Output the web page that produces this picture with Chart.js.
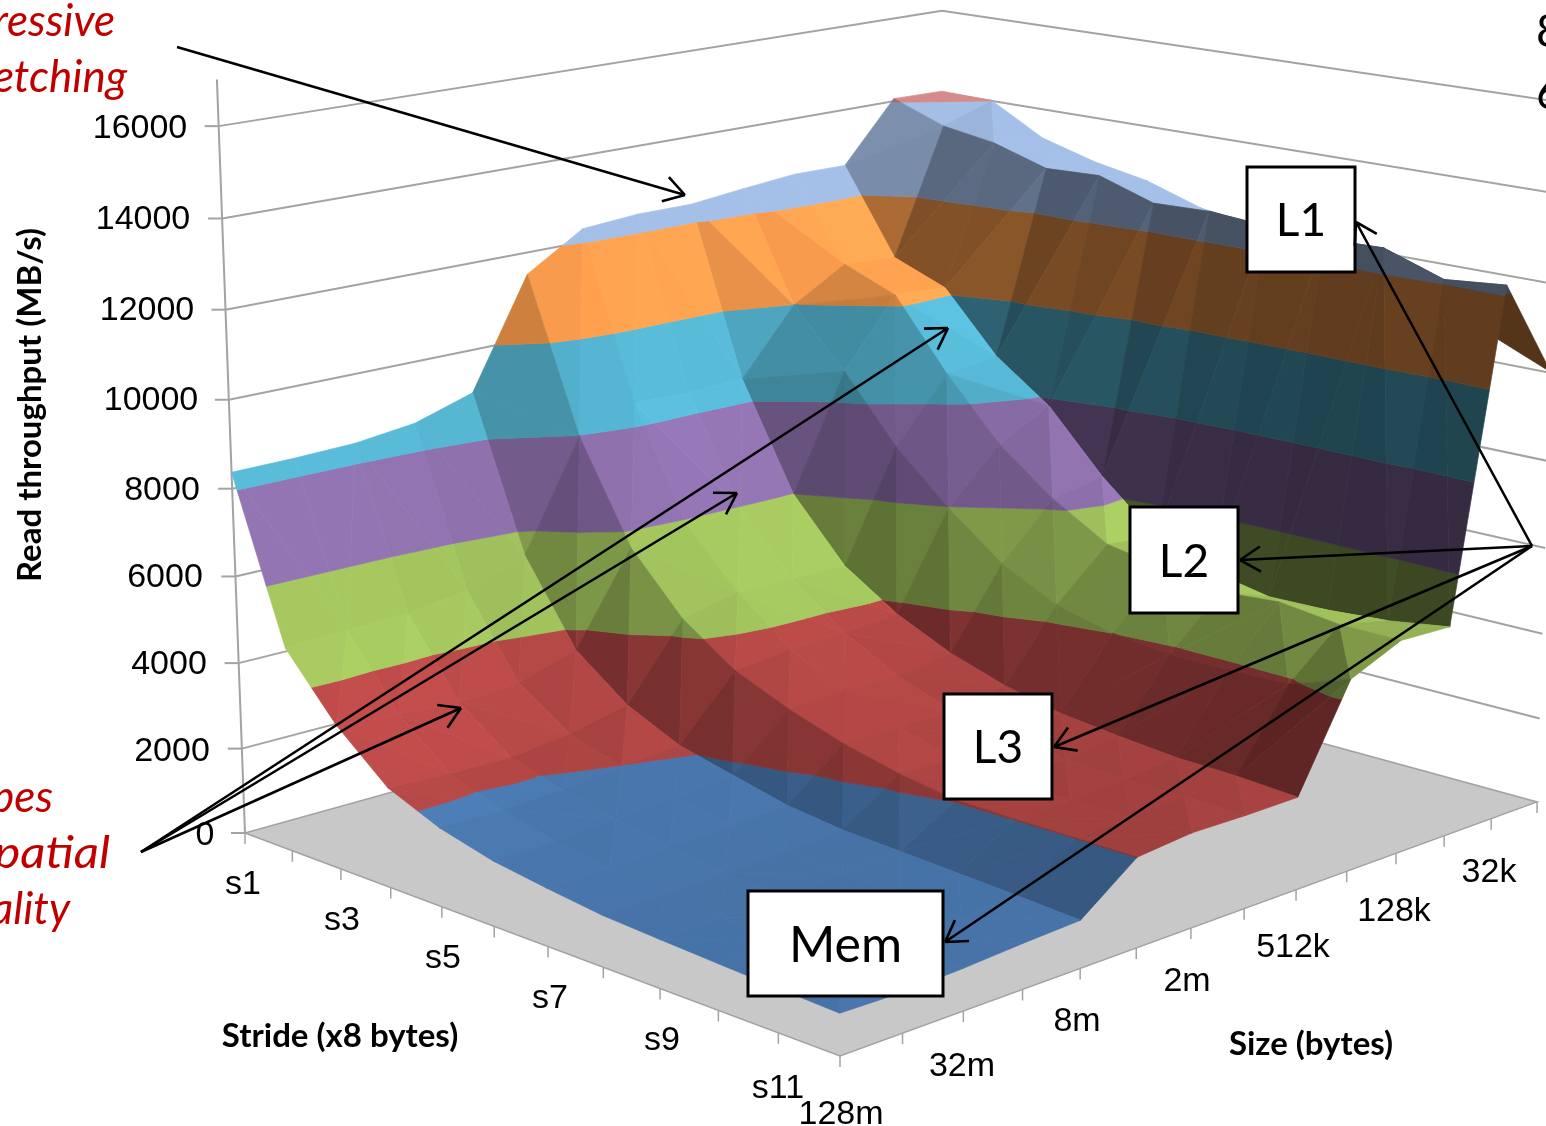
<!DOCTYPE html>
<html>
<head>
<meta charset="utf-8">
<title>Memory mountain</title>
<script src="https://cdn.jsdelivr.net/npm/chart.js@4"></script>
<style>
  html, body { margin: 0; padding: 0; background: #fff; overflow: hidden; }
  canvas { display: block; }
</style>
</head>
<body>
<canvas id="mountain" width="1546" height="1126"></canvas>
<script>
const strideLabels = ["s1","s2","s3","s4","s5","s6","s7","s8","s9","s10","s11","s12"];
const sizeLabels = ["128m","64m","32m","16m","8m","4m","2m","1024k","512k","256k","128k","64k","32k","16k"];
const throughputTicks = [0,2000,4000,6000,8000,10000,12000,14000,16000];

// read throughput (MB/s) per size, one value per stride s1..s12
const size128m  = [8370,4710,3320,2290,1790,1480,1300,1145,1075,1010,950,900];
const size64m   = [8380,4760,3200,2220,1780,1490,1320,1180,1110,1050,1000,870];
const size32m   = [8420,4800,3095,2195,1850,1590,1360,1220,1150,1100,1050,920];
const size16m   = [8580,4990,3180,2355,1990,1690,1430,1280,1220,1170,1100,1000];
const size8m    = [9000,5490,3590,2660,2095,1795,1500,1345,1285,1215,1145,1060];
const size4m    = [11490,7985,5670,4330,3475,2950,2530,2230,2030,2010,2005,2010];
const size2m    = [12300,8470,5900,4620,3630,3000,2530,2180,2040,2030,2050,2130];
const size1024k = [12400,8430,5950,4610,3660,2990,2530,2270,2180,2110,2120,2105];
const size512k  = [12400,8480,6000,4580,3760,3175,2765,2480,2335,2220,2190,2110];
const size256k  = [12540,9990,8670,7145,5980,4970,4330,4000,3865,3870,3910,4390];
const size128k  = [12660,10720,10230,8610,7210,6200,5430,5200,4975,5080,4915,4905];
const size64k   = [12650,10640,10150,8750,7830,6430,5280,4780,4520,4550,4650,4860];
const size32k   = [14060,13600,13400,13010,13060,12640,12680,12580,12520,12560,12100,12230];
const size16k   = [14040,14010,13310,12950,12710,12290,12120,11940,11300,10900,10610,10020];
const surface = [size128m,size64m,size32m,size16m,size8m,size4m,size2m,size1024k,size512k,size256k,size128k,size64k,size32k,size16k];

// one colour per 2000 MB/s band
const bandColors = [[70,114,166],[165,66,64],[146,176,84],[130,103,158],[78,166,192],[234,146,72],[165,192,232],[214,138,138]];

// camera, fitted on the floor corners of the picture
const cam = { x0: 245, y0: 833, A: 481.6, B: 845.8, C: 80.4, D: -93, p: -0.135, q: 0.158, vpX: 942, vpD: 18700 };

function project(a, b, z) {
  const w = 1 + cam.p * a + cam.q * b;
  const fx = (cam.x0 + cam.A * a + cam.B * b) / w;
  const fy = (cam.y0 + cam.C * a + cam.D * b) / w;
  const k = 0.0419 / (1 + 0.125 * b - 0.115 * a);
  const h = k * z * (1 + 0.0034 * z / 1000);
  return { x: fx + (fx - cam.vpX) * h / cam.vpD, y: fy - h };
}
const gridPoint = (i, j) => ({ i, j, z: surface[j][i] });
const toScreen = (v) => project(v.i / (strideLabels.length - 1), v.j / (sizeLabels.length - 1), v.z);

function clipBand(poly, lo, hi) {
  const cut = (pts, keep, limit) => {
    const out = [];
    pts.forEach((p, n) => {
      const q = pts[(n + 1) % pts.length];
      if (keep(p)) out.push(p);
      if (keep(p) !== keep(q)) {
        const t = (limit - p.z) / (q.z - p.z);
        out.push({ i: p.i + (q.i - p.i) * t, j: p.j + (q.j - p.j) * t, z: limit });
      }
    });
    return out;
  };
  let res = cut(poly, (p) => p.z >= lo, lo);
  if (res.length) res = cut(res, (p) => p.z <= hi, hi);
  return res;
}

// light comes from the back right, flat faces keep the band colour
function shadeOf(t) {
  const s = 1400;
  const u = [t[1].i - t[0].i, t[1].j - t[0].j, (t[1].z - t[0].z) / s];
  const v = [t[2].i - t[0].i, t[2].j - t[0].j, (t[2].z - t[0].z) / s];
  let n = [u[1]*v[2]-u[2]*v[1], u[2]*v[0]-u[0]*v[2], u[0]*v[1]-u[1]*v[0]];
  const len = Math.hypot(n[0], n[1], n[2]) * (n[2] < 0 ? -1 : 1);
  n = n.map((c) => c / len);
  // underside seen from the front: stays dark
  const s0 = toScreen(t[0]), s1 = toScreen(t[1]), s2 = toScreen(t[2]);
  const area = (s1.x - s0.x) * (s2.y - s0.y) - (s1.y - s0.y) * (s2.x - s0.x);
  const uv = u[0] * v[1] - u[1] * v[0];
  if (area * uv > 0) return 0.36;
  return 1 + 0.58 * (0.62 * n[0] + 0.58 * n[1] + 0.53 * n[2] - 0.53);
}
function bandColor(band, f) {
  const c = bandColors[band].map((v) => Math.min(255, Math.round(v * f)));
  return `rgb(${c[0]},${c[1]},${c[2]})`;
}

const datasets = [];
function addPath(points, stroke, width, fill) {
  datasets.push({
    data: points,
    showLine: true,
    pointRadius: 0,
    borderColor: stroke,
    borderWidth: width,
    backgroundColor: fill || "transparent",
    fill: fill ? "shape" : false,
    tension: 0,
  });
}

const grey = "#a3a3a3";
const lastI = strideLabels.length - 1, lastJ = sizeLabels.length - 1;

// floor
const floorPts = [project(0,0,0), project(1,0,0), project(1,1,0), project(0,1,0), project(0,0,0)];
addPath(floorPts, grey, 1.5, "#c8c8c8");

// walls
throughputTicks.forEach((z) => {
  if (z > 0) {
    addPath([project(0,0,z), project(0,1,z), project(1,1,z)], grey, 2);
  }
  const p = project(0,0,z);
  addPath([{ x: p.x - 14, y: p.y }, p], grey, 2);
});
addPath([project(0,0,0), project(0,0,17000)], grey, 2);

// ticks under the floor edges
for (let i = 0; i <= lastI; i++) {
  const p = project(i / lastI, 0, 0);
  addPath([p, { x: p.x, y: p.y + 11 }], grey, 1.5);
}
for (let j = 1; j <= lastJ; j++) {
  const p = project(1, j / lastJ, 0);
  addPath([p, { x: p.x, y: p.y + 11 }], grey, 1.5);
}

// surface, back to front, cut in 2000 MB/s bands
function addTriangle(tri) {
  let f = shadeOf(tri);
  bandColors.forEach((_, band) => {
    const piece = clipBand(tri, band * 2000, (band + 1) * 2000);
    if (piece.length < 3) return;
    const pts = piece.map(toScreen);
    pts.push(pts[0]);
    // the top band never gets lighter than its own colour
    const col = bandColor(band, band >= 6 ? Math.min(f, 1) : f);
    addPath(pts, col, 0.7, col);
  });
}
for (let i = 0; i < lastI; i++) {
  for (let j = lastJ - 1; j >= 0; j--) {
    const a = gridPoint(i, j), b = gridPoint(i + 1, j), c = gridPoint(i + 1, j + 1), d = gridPoint(i, j + 1);
    // each cell folds along its higher diagonal
    if (a.z + c.z > b.z + d.z) {
      addTriangle([a, d, c]);
      addTriangle([a, c, b]);
    } else {
      addTriangle([a, d, b]);
      addTriangle([b, d, c]);
    }
  }
}
// first dataset is painted last by Chart.js
datasets.forEach((d, n) => { d.order = datasets.length - n; });

// text and callouts
const tickLabelPos = [[205,836],[172,752],[169,665],[165,578],[162,491],[151,401],[147,311],[143,220],[140,129]];
const stridePos = [[243,885],[342,921],[443,959],[550,999],[662,1041],[778,1089]];
const sizePos = [[841,1115],[962,1067],[1077,1022],[1187,982],[1293,948],[1394,912],[1489,873]];
const boxes = [
  { text: "L1", x: 1247, y: 167, w: 108, h: 105, font: 46 },
  { text: "L2", x: 1130, y: 507, w: 108, h: 106, font: 46 },
  { text: "L3", x: 944, y: 694, w: 108, h: 105, font: 46 },
  { text: "Mem", x: 748, y: 891, w: 195, h: 105, font: 50 },
];
const arrows = [
  [177,47,685,195],
  [141,852,948,328], [141,852,737,493], [141,852,461,708],
  [1532,546,1356,222], [1532,546,1240,560], [1532,546,1054,747], [1532,546,945,942],
];
const redLines = [["Aggressive",115,22,1],["prefetching",127,78,1],["Slopes",53,798,1],["of spatial",110,854,1.12],["locality",70,910,1]];

const annotations = {
  id: "annotations",
  afterDraw(chart) {
    const ctx = chart.ctx;
    const sx = chart.scales.x, sy = chart.scales.y;
    const X = (v) => sx.getPixelForValue(v), Y = (v) => sy.getPixelForValue(v);

    ctx.save();
    ctx.textBaseline = "middle";
    ctx.textAlign = "center";
    ctx.fillStyle = "#000";
    ctx.font = '34px "Liberation Sans"';
    throughputTicks.forEach((z, n) => ctx.fillText(String(z), X(tickLabelPos[n][0]), Y(tickLabelPos[n][1])));
    strideLabels.filter((_, n) => n % 2 === 0).forEach((t, n) => ctx.fillText(t, X(stridePos[n][0]), Y(stridePos[n][1])));
    sizeLabels.filter((_, n) => n % 2 === 0).forEach((t, n) => ctx.fillText(t, X(sizePos[n][0]), Y(sizePos[n][1])));

    // axis titles
    ctx.font = 'bold 33px Lato';
    ctx.fillText("Stride (x8 bytes)", X(340), Y(1036));
    ctx.fillText("Size (bytes)", X(1311), Y(1044));
    ctx.save();
    ctx.translate(X(30), Y(405));
    ctx.rotate(-Math.PI / 2);
    ctx.fillText("Read throughput (MB/s)", 0, 0);
    ctx.restore();

    // red notes, cut by the left edge as in the slide
    ctx.fillStyle = "#c00000";
    ctx.font = 'italic 44px Lato';
    ctx.textAlign = "right";
    redLines.forEach(([t, x, y, stretch]) => {
      ctx.save();
      ctx.translate(X(x), Y(y));
      ctx.scale(stretch, 1);
      ctx.fillText(t, 0, 0);
      ctx.restore();
    });

    ctx.fillStyle = "#000";
    ctx.textAlign = "left";
    ctx.font = '46px Lato';
    ctx.fillText("8", X(1536), Y(32));
    ctx.fillText("6", X(1536), Y(94));

    // boxes
    boxes.forEach((b) => {
      ctx.fillStyle = "#fff";
      ctx.strokeStyle = "#000";
      ctx.lineWidth = 3;
      ctx.fillRect(X(b.x), Y(b.y), b.w, b.h);
      ctx.strokeRect(X(b.x), Y(b.y), b.w, b.h);
      ctx.fillStyle = "#000";
      ctx.textAlign = "center";
      ctx.font = b.font + 'px Lato';
      ctx.fillText(b.text, X(b.x + b.w / 2), Y(b.y + b.h / 2 + 2));
    });

    // arrows with open heads
    ctx.strokeStyle = "#000";
    ctx.lineWidth = 2.6;
    arrows.forEach(([x1, y1, x2, y2]) => {
      const ang = Math.atan2(y2 - y1, x2 - x1);
      ctx.beginPath();
      ctx.moveTo(X(x1), Y(y1));
      ctx.lineTo(X(x2), Y(y2));
      [-0.55, 0.55].forEach((d) => {
        ctx.moveTo(X(x2), Y(y2));
        ctx.lineTo(X(x2) - 24 * Math.cos(ang + d), Y(y2) - 24 * Math.sin(ang + d));
      });
      ctx.stroke();
    });
    ctx.restore();
  },
};

new Chart(document.getElementById("mountain").getContext("2d"), {
  type: "scatter",
  data: { datasets },
  options: {
    responsive: false,
    animation: false,
    events: [],
    layout: { padding: 0 },
    plugins: { legend: { display: false }, tooltip: { enabled: false } },
    scales: {
      x: { type: "linear", min: 0, max: 1546, display: false },
      y: { type: "linear", min: 0, max: 1126, reverse: true, display: false },
    },
  },
  plugins: [annotations],
});
</script>
</body>
</html>
